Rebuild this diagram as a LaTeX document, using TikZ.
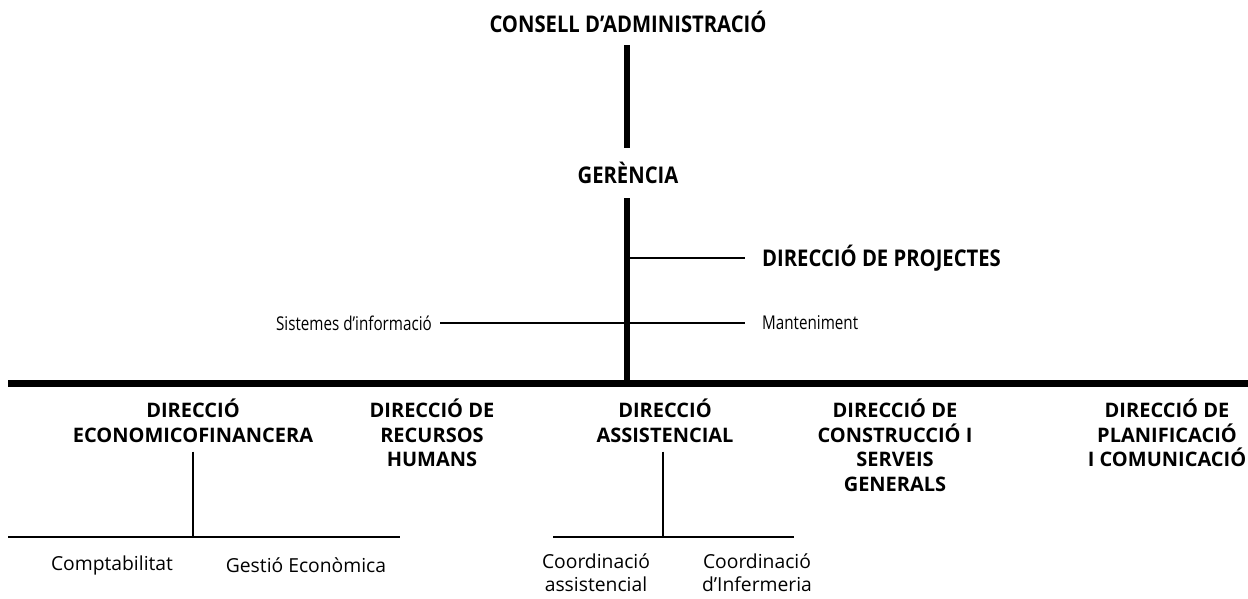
\documentclass[tikz,border=0pt]{standalone}
\usepackage{fontspec}
\setmainfont{Open Sans}
\newfontfamily\estretfont[FakeStretch=0.88]{Open Sans}
\newfontfamily\estretprim[FakeStretch=0.8]{Open Sans}
\usetikzlibrary{positioning}
\tikzset{
  direc/.style={font=\fontsize{20}{24.5}\selectfont\bfseries,align=center,inner sep=0pt},
  unitat/.style={font=\fontsize{19.3}{23}\selectfont,align=center,inner sep=0pt},
  cim/.style={font=\estretfont\fontsize{23}{26}\selectfont\bfseries,inner sep=0pt},
  lat/.style={font=\estretprim\fontsize{19}{23}\selectfont,inner sep=0pt},
  eix/.style={line width=6.5pt},
  bus/.style={line width=7pt},
  branca/.style={line width=2.2pt},
}

\begin{document}
\begin{tikzpicture}[x=1pt,y=-1pt]
  \useasboundingbox (0,0) rectangle (1248,599);
  % cim
  \node[cim] (consell) at (628,22) {CONSELL D’ADMINISTRACIÓ};
  \node[cim] (geren) at (628,173) {GERÈNCIA};
  \coordinate (nus) at (627,383);
  \draw[eix,shorten <=12pt,shorten >=14pt] (consell.south -| nus) -- (geren.north -| nus);
  \draw[eix,shorten <=14pt] (geren.south -| nus) -- (nus);
  % staff
  \coordinate (b1) at (627,258);
  \node[cim,anchor=west] (proj) at (762,258) {DIRECCIÓ DE PROJECTES};
  \node[lat,anchor=east] (sist) at (432,323) {Sistemes d’informació};
  \node[lat,anchor=west] (mant) at (762,323) {Manteniment};
  \draw[branca,shorten >=17pt] (b1) -- (proj);
  \draw[branca,shorten <=8pt,shorten >=17pt] (sist) -- (mant);
  % direccions
  \coordinate (busE) at (8,383);
  \coordinate (busD) at (1248,383);
  \draw[bus] (busE) -- (busD);
  \node[direc,anchor=north] (econ) at (193,399) {DIRECCIÓ\\ECONOMICOFINANCERA};
  \node[direc,anchor=north] (rrhh) at (432,399) {DIRECCIÓ DE\\RECURSOS\\HUMANS};
  \node[direc,anchor=north] (assis) at (665,399) {DIRECCIÓ\\ASSISTENCIAL};
  \node[direc,anchor=north] (const) at (895,399) {DIRECCIÓ DE\\CONSTRUCCIÓ I\\SERVEIS\\GENERALS};
  \node[direc,anchor=north] (plan) at (1167,399) {DIRECCIÓ DE\\PLANIFICACIÓ\\I COMUNICACIÓ};
  % economicofinancera
  \coordinate (e0) at (193,537);
  \coordinate (eE) at (8,537);
  \coordinate (eD) at (400,537);
  \draw[branca,shorten <=9pt] (econ.south -| e0) -- (e0);
  \draw[branca] (eE) -- (eD);
  \node[unitat] (compt) at (112,565) {Comptabilitat};
  \node[unitat] (gest) at (306,565) {Gestió Econòmica};
  % assistencial
  \coordinate (a0) at (663,537);
  \coordinate (aE) at (553,537);
  \coordinate (aD) at (794,537);
  \draw[branca,shorten <=9pt] (assis.south -| a0) -- (a0);
  \draw[branca] (aE) -- (aD);
  \node[unitat,anchor=north] (coas) at (596,554) {Coordinació\\assistencial};
  \node[unitat,anchor=north] (coinf) at (757,554) {Coordinació\\d’Infermeria};
\end{tikzpicture}
\end{document}
